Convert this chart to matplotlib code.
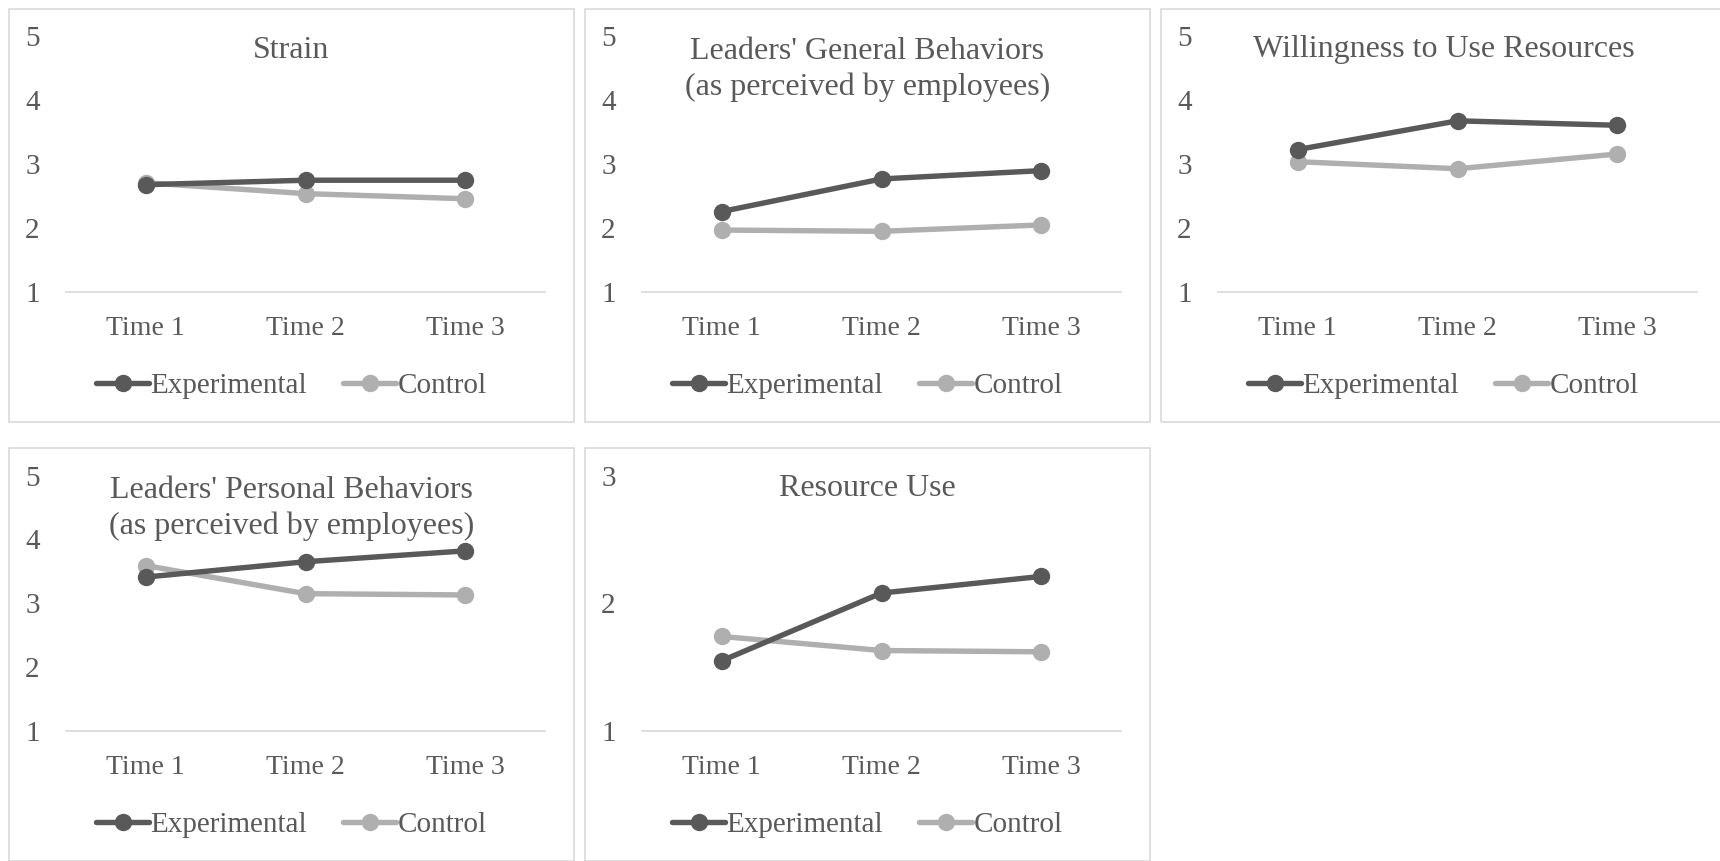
import matplotlib

matplotlib.use("Agg")

import matplotlib.pyplot as plt
from matplotlib.patches import Rectangle

times = ["Time 1", "Time 2", "Time 3"]
series_names = ["Experimental", "Control"]

titles = [
    "Strain",
    "Leaders' General Behaviors\n(as perceived by employees)",
    "Willingness to Use Resources",
    "Leaders' Personal Behaviors\n(as perceived by employees)",
    "Resource Use",
]

experimental = [
    [2.68, 2.75, 2.75],
    [2.26, 2.77, 2.90],
    [3.23, 3.68, 3.61],
    [3.41, 3.65, 3.82],
    [1.55, 2.08, 2.21],
]
control = [
    [2.71, 2.54, 2.46],
    [1.97, 1.95, 2.05],
    [3.04, 2.93, 3.16],
    [3.59, 3.15, 3.13],
    [1.74, 1.63, 1.62],
]
y_max = [5, 5, 5, 5, 3]

W, H = 1720, 861
DARK = "#595959"
LIGHT = "#afafaf"
TEXT = "#595959"
GRID = "#d9d9d9"

plt.rcParams["font.family"] = ["Liberation Serif", "DejaVu Serif"]

fig = plt.figure(figsize=(W / 100, H / 100), dpi=100)
fig.patch.set_facecolor("white")


def px_rect(left, top, width, height):
    return [left / W, 1 - (top + height) / H, width / W, height / H]


for i, title in enumerate(titles):
    row, col = divmod(i, 3)
    box_left = 9 + col * 576
    box_top = 9 + row * 439
    box_w, box_h = 565, 413

    fig.patches.append(
        Rectangle(
            (box_left / W, 1 - (box_top + box_h) / H),
            box_w / W,
            box_h / H,
            transform=fig.transFigure,
            facecolor="none",
            edgecolor=GRID,
            linewidth=1.2,
            zorder=0,
        )
    )

    ax = fig.add_axes(px_rect(box_left + 57, box_top + 27.5, 479, 255.5))
    x = range(len(times))
    ax.plot(x, experimental[i], color=DARK, lw=3.9, marker="o", ms=11.5,
            label=series_names[0], solid_capstyle="round", zorder=3)
    ax.plot(x, control[i], color=LIGHT, lw=3.9, marker="o", ms=11.5,
            label=series_names[1], solid_capstyle="round", zorder=2)

    ax.set_xlim(-0.5, 2.5)
    ax.set_ylim(1, y_max[i])
    ax.set_yticks(range(1, y_max[i] + 1))
    ax.set_xticks(list(x))
    ax.set_xticklabels(times)
    for side in ("top", "right", "left"):
        ax.spines[side].set_visible(False)
    ax.spines["bottom"].set_color(GRID)
    ax.spines["bottom"].set_linewidth(1.2)
    ax.spines["bottom"].set_zorder(1)
    ax.tick_params(axis="x", length=0, pad=17, labelsize=20, labelcolor=TEXT)
    ax.tick_params(axis="y", length=0, pad=19, labelsize=21, labelcolor=TEXT)
    ax.set_facecolor("none")

    cx = box_left + box_w / 2
    n_lines = title.count("\n") + 1
    ty = box_top + 41 + (n_lines - 1) * 19.5
    fig.text(cx / W, 1 - ty / H, title, ha="center", va="center",
             fontsize=23, color=TEXT, linespacing=1.3)

    ax.legend(
        loc="center",
        bbox_to_anchor=(cx / W, 1 - (box_top + 377) / H),
        bbox_transform=fig.transFigure,
        ncol=2,
        frameon=False,
        fontsize=21,
        labelcolor=TEXT,
        handlelength=1.8,
        handletextpad=0.05,
        columnspacing=1.25,
        borderaxespad=0,
    )

fig.savefig("out.png", dpi=100)
